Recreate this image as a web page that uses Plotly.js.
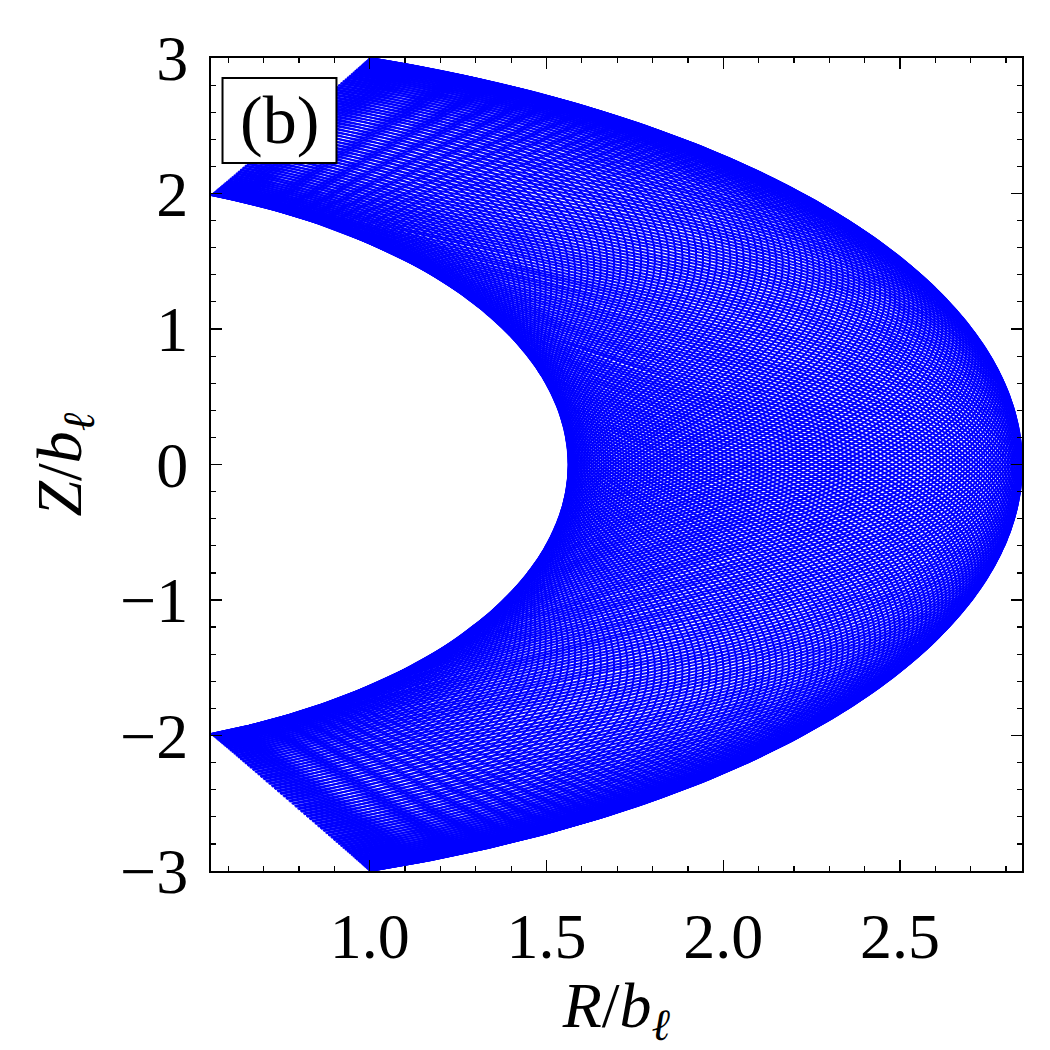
<!DOCTYPE html>
<html>
<head>
<meta charset="utf-8">
<script src="https://cdn.plot.ly/plotly-3.0.1.min.js"></script>
<style>
  html, body { margin: 0; padding: 0; background: #ffffff; }
  #chart { width: 1050px; height: 1050px; }
</style>
</head>
<body>
<div id="chart"></div>
<script>
// ---- values ----
// the two boundary curves of the crescent (inner edge, outer edge)
const boundaryLabel = ['inner', 'outer'];
const apexR = [1.562, 2.845];   // R where the edge crosses Z = 0
const tipR  = [0.551, 1.000];   // R at the left end of the edge
const tipZ  = [1.989, 3.000];   // |Z| at the left end of the edge

// family of orbits filling the crescent
const orbitCount = 170;          // number of drawn curves
const phaseSweep = 2.6;          // phase advance across one curve (rad)
const samplesPerCurve = 261;

// axes
const xTickVals = [1.0, 1.5, 2.0, 2.5];
const xTickText = ['1.0', '1.5', '2.0', '2.5'];
const yTickVals = [-3, -2, -1, 0, 1, 2, 3];
const yTickText = ['\u22123', '\u22122', '\u22121', '0', '1', '2', '3'];
const xRange = [0.551, 2.845];
const yRange = [-3, 3];

// ---- build curves ----
const semiB = apexR.map((a, i) => tipZ[i] / Math.sqrt(1 - Math.pow(tipR[i] / a, 2)));
const thetaMax = semiB.map((b, i) => Math.asin(tipZ[i] / b));

const xs = [], ys = [];
for (let k = 0; k < orbitCount; k++) {
  const phi = 2 * Math.PI * (k + 0.5) / orbitCount;
  for (let j = 0; j < samplesPerCurve; j++) {
    const u = -1 + 2 * j / (samplesPerCurve - 1);
    const h = Math.sin(Math.PI * u / 2);
    const w = 0.5 - 0.5 * Math.cos(phi + phaseSweep * h);
    const a = apexR[0] + w * (apexR[1] - apexR[0]);
    const b = semiB[0] + w * (semiB[1] - semiB[0]);
    const tm = thetaMax[0] + w * (thetaMax[1] - thetaMax[0]);
    const th = u * tm;
    xs.push(a * Math.cos(th));
    ys.push(b * Math.sin(th));
  }
  xs.push(null); ys.push(null);
}

const traces = [{
  type: 'scatter', mode: 'lines', x: xs, y: ys,
  line: { color: '#0000ff', width: 2.0 },
  hoverinfo: 'skip', showlegend: false, connectgaps: false
}];

const serif = 'Liberation Serif, Times New Roman, serif';
const axisCommon = {
  showgrid: false, zeroline: false,
  showline: true, linecolor: '#000', linewidth: 2, mirror: 'allticks',
  ticks: 'inside', ticklen: 11, tickwidth: 1.5, tickcolor: '#000',
  tickfont: { family: serif, size: 64, color: '#000' },
  fixedrange: true
};

const layout = {
  width: 1050, height: 1050,
  margin: { l: 210.5, r: 28, t: 58, b: 179 },
  paper_bgcolor: '#fff', plot_bgcolor: '#fff',
  showlegend: false,
  xaxis: Object.assign({}, axisCommon, {
    range: xRange, tickmode: 'array', tickvals: xTickVals, ticktext: xTickText,
    minor: { dtick: 0.1, tick0: 0, ticks: 'inside', ticklen: 5, tickwidth: 1.2, tickcolor: '#000' },
    ticklabelstandoff: 8,
    title: { text: '<i>R</i>/<i>b</i><sub><i>ℓ</i></sub>', font: { family: serif, size: 64, color: '#000' }, standoff: 12 }
  }),
  yaxis: Object.assign({}, axisCommon, {
    range: yRange, tickmode: 'array', tickvals: yTickVals, ticktext: yTickText,
    minor: { dtick: 0.2, tick0: 0, ticks: 'inside', ticklen: 5, tickwidth: 1.2, tickcolor: '#000' },
    ticklabelstandoff: 8,
    title: { text: '<i>Z</i>/<i>b</i><sub><i>ℓ</i></sub>', font: { family: serif, size: 64, color: '#000' }, standoff: 18 }
  }),
  shapes: [{
    type: 'rect', xref: 'paper', yref: 'paper', layer: 'above',
    x0: 0.0142, x1: 0.1547, y0: 0.871, y1: 0.9754,
    fillcolor: '#fff', line: { color: '#000', width: 2 }
  }],
  annotations: [{
    xref: 'paper', yref: 'paper', x: 0.0845, y: 0.9232,
    xanchor: 'center', yanchor: 'middle', showarrow: false,
    text: '(b)', font: { family: serif, size: 68, color: '#000' }
  }]
};

Plotly.newPlot('chart', traces, layout, { displayModeBar: false, staticPlot: true });
</script>
</body>
</html>
